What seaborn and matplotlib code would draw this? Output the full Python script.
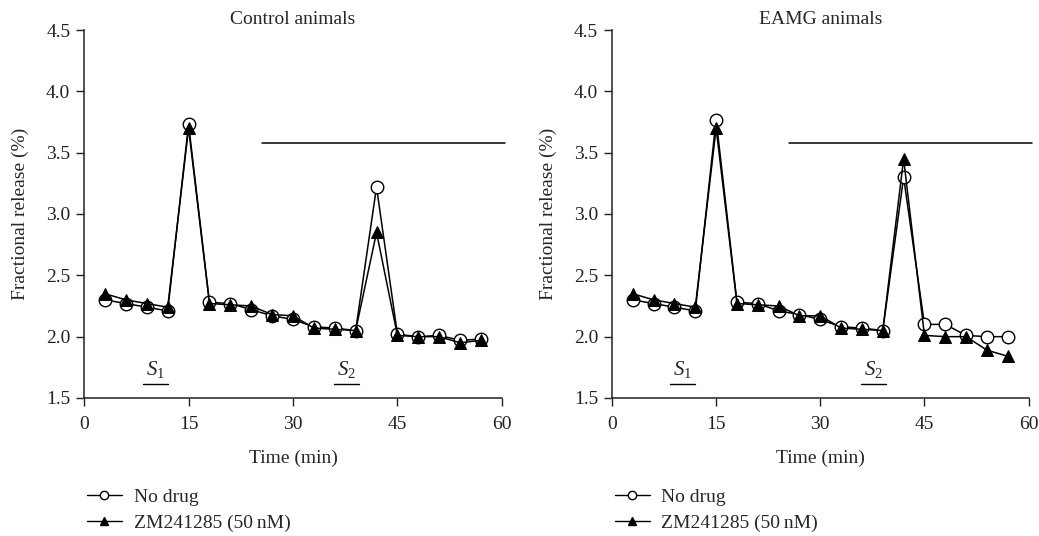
import numpy as np
import pandas as pd
import seaborn as sns
import matplotlib.pyplot as plt
from matplotlib.lines import Line2D

sns.set_style("ticks")
plt.rcParams['font.family'] = ['Liberation Serif', 'DejaVu Serif']
plt.rcParams['mathtext.fontset'] = 'custom'
plt.rcParams['mathtext.it'] = 'Liberation Serif:italic'
plt.rcParams['mathtext.rm'] = 'Liberation Serif'

# sampling times (min)
time = [3, 6, 9, 12, 15, 18, 21, 24, 27, 30, 33, 36, 39, 42, 45, 48, 51, 54, 57]

# fractional release (%)
ctrl_nodrug = [2.30, 2.27, 2.24, 2.21, 3.73, 2.28, 2.27, 2.22, 2.17, 2.14,
               2.08, 2.07, 2.05, 3.22, 2.02, 2.00, 2.01, 1.97, 1.98]
ctrl_zm = [2.35, 2.30, 2.27, 2.24, 3.70, 2.27, 2.26, 2.25, 2.18, 2.17,
           2.07, 2.06, 2.05, 2.85, 2.01, 2.00, 2.00, 1.95, 1.97]
eamg_nodrug = [2.30, 2.27, 2.24, 2.21, 3.77, 2.28, 2.27, 2.21, 2.18, 2.14,
               2.08, 2.07, 2.05, 3.30, 2.10, 2.10, 2.01, 2.00, 2.00]
eamg_zm = [2.35, 2.30, 2.27, 2.24, 3.70, 2.27, 2.26, 2.25, 2.17, 2.17,
           2.07, 2.06, 2.05, 3.45, 2.01, 2.00, 2.00, 1.89, 1.84]

titles = ["Control animals", "EAMG animals"]
labels = ["No drug", "ZM241285 (50\u2009nM)"]
drug_bar = (25.5, 60.5, 3.58)   # x start, x end, y
s_labels = [("$S_1$", 10.2, 1.73), ("$S_2$", 37.7, 1.73)]

FS = 14

fig = plt.figure(figsize=(10.39, 5.36), dpi=100)
axes = [fig.add_axes([0.081, 0.2575, 0.402, 0.6865]),
        fig.add_axes([0.589, 0.2575, 0.401, 0.6865])]

for ax, title, nd, zm in zip(axes, titles, [ctrl_nodrug, eamg_nodrug], [ctrl_zm, eamg_zm]):
    sns.lineplot(x=time, y=nd, ax=ax, color='black', lw=1.1, marker='o',
                 markersize=9, markerfacecolor='white', markeredgecolor='black',
                 markeredgewidth=1.0)
    sns.lineplot(x=time, y=zm, ax=ax, color='black', lw=1.1, marker='^',
                 markersize=9, markerfacecolor='black', markeredgecolor='black')
    ax.plot([drug_bar[0], drug_bar[1]], [drug_bar[2], drug_bar[2]], color='black',
            lw=1.1, clip_on=False)
    for txt, x, y in s_labels:
        ax.text(x, y, txt, ha='center', va='center', fontsize=FS + 1)
        # underline below the stimulation label
        ax.plot([x - 1.8, x + 1.8], [y - 0.12, y - 0.12], color='black', lw=1)
    ax.set_xlim(0, 60)
    ax.set_ylim(1.5, 4.5)
    ax.set_xticks([0, 15, 30, 45, 60])
    ax.set_yticks([1.5, 2.0, 2.5, 3.0, 3.5, 4.0, 4.5])
    ax.set_yticklabels([f"{v:.1f}" for v in ax.get_yticks()])
    ax.tick_params(labelsize=FS, direction='out', length=6, width=1,
                   colors='#222222', pad=4)
    ax.tick_params(axis='x', pad=7)
    for s in ['left', 'bottom']:
        ax.spines[s].set_linewidth(1.1)
        ax.spines[s].set_color('#222222')
    sns.despine(ax=ax)
    ax.set_title(title, fontsize=FS, pad=4)
    ax.set_xlabel("Time (min)", fontsize=FS, labelpad=12)
    ax.set_ylabel("Fractional release (%)", fontsize=FS, labelpad=12)

    handles = [Line2D([], [], color='black', lw=1, marker='o', markersize=6,
                      markerfacecolor='white'),
               Line2D([], [], color='black', lw=1, marker='^', markersize=6,
                      markerfacecolor='black')]
    ax.legend(handles, labels, loc='upper left', bbox_to_anchor=(-0.012, -0.225),
              frameon=False, fontsize=FS, handlelength=1.8, handletextpad=0.6,
              labelspacing=0.4, borderaxespad=0)

fig.savefig("out.png", dpi=100)
